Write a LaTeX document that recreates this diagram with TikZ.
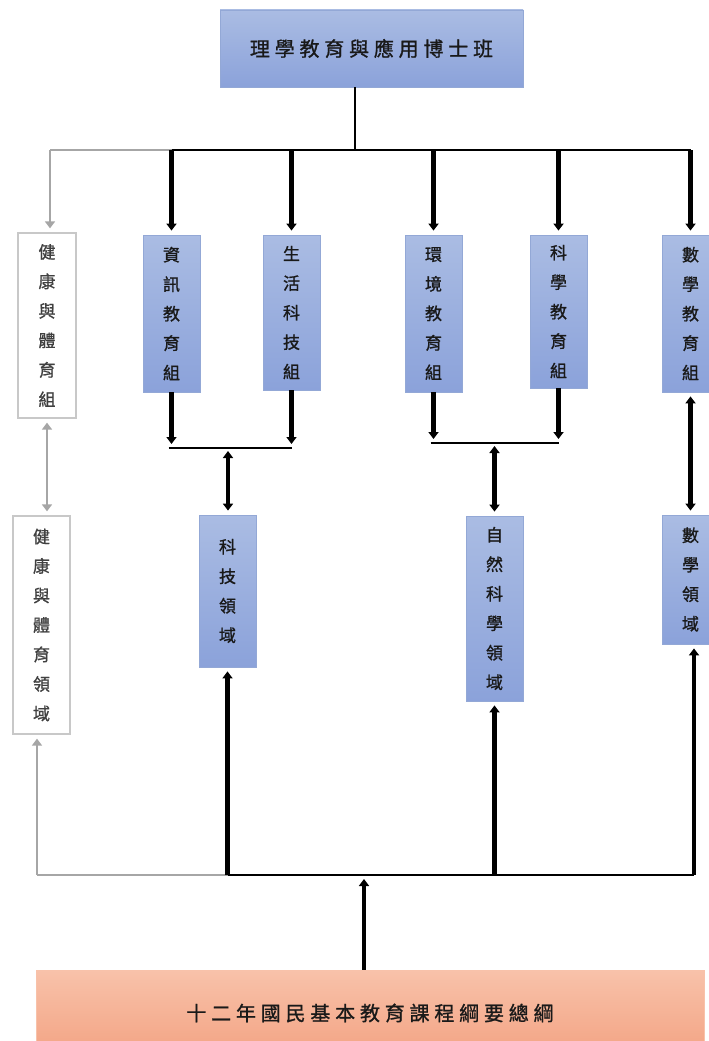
\documentclass[tikz,border=0pt]{standalone}
\usepackage{fontspec}
\newfontfamily\cjk[FakeBold=1]{Noto Sans CJK TC}
\newfontfamily\cjkwide[LetterSpace=24,FakeBold=1]{Noto Sans CJK TC}
\usetikzlibrary{arrows.meta}

\definecolor{boxtop}{HTML}{AABCE3}
\definecolor{boxbot}{HTML}{8BA2DA}
\definecolor{boxline}{HTML}{93A8D6}
\definecolor{basetop}{HTML}{F8C2AA}
\definecolor{basebot}{HTML}{F3A383}
\definecolor{gline}{HTML}{A6A6A6}
\definecolor{gbox}{HTML}{C8C8C8}

\tikzset{
  tip/.tip={Triangle[width=10pt,length=7pt]},
  colbox/.style={draw=boxline,line width=0.8pt,top color=boxtop,bottom color=boxbot,
    minimum width=57pt,inner sep=0pt,align=center,text=black!90,
    font=\cjk\fontsize{17}{29.5}\selectfont},
  graybox/.style={colbox,draw=gbox,line width=1.3pt,top color=white,bottom color=white,text=black!75},
  bus/.style={line width=2.3pt,black},
  gbus/.style={line width=2.5pt,gline},
  down/.style={line width=4.5pt,-tip,shorten >=4pt},
  up/.style={line width=4.5pt,-tip,shorten >=4pt},
  both/.style={line width=4.5pt,tip-tip,shorten <=3pt,shorten >=4pt},
  gdown/.style={line width=2.8pt,gline,-tip,shorten >=4pt},
  gboth/.style={line width=2.8pt,gline,tip-tip,shorten <=4pt,shorten >=4pt}
}

\begin{document}
\begin{tikzpicture}[x=1pt,y=-1pt]
\useasboundingbox (0,0) rectangle (709,1041);
\clip (0,0) rectangle (709,1041);

\node[colbox,minimum width=303pt,minimum height=77pt,font=\cjkwide\fontsize{20}{22}\selectfont]
  (PHD) at (371.5,48.5) {理學教育與應用博士班};

\node[colbox,minimum height=157pt] (ZX) at (171.5,313.5) {資\\訊\\教\\育\\組};
\node[colbox,minimum height=155pt] (SH) at (291.5,312.5) {生\\活\\科\\技\\組};
\node[colbox,minimum height=157pt] (HJ) at (433.5,313.5) {環\\境\\教\\育\\組};
\node[colbox,minimum height=153pt] (KX) at (558.5,311.5) {科\\學\\教\\育\\組};
\node[colbox,minimum height=157pt] (SX) at (690.5,313.5) {數\\學\\教\\育\\組};
\node[graybox,minimum width=58pt,minimum height=185pt] (JK) at (47,325.5) {健\\康\\與\\體\\育\\組};

\node[colbox,minimum height=152pt] (KJ) at (227.5,591) {科\\技\\領\\域};
\node[colbox,minimum height=185pt] (ZR) at (494.5,608.5) {自\\然\\科\\學\\領\\域};
\node[colbox,minimum height=129pt] (SL) at (690.5,579.5) {數\\學\\領\\域};
\node[graybox,minimum height=218pt] (JKL) at (41.5,625) {健\\康\\與\\體\\育\\領\\域};

\node[colbox,draw=basetop,top color=basetop,bottom color=basebot,minimum width=668pt,minimum height=86pt,
  font=\cjkwide\fontsize{20}{22}\selectfont] (BASE) at (370,1013) {十二年國民基本教育課程綱要總綱};

\coordinate (TB) at (355,150);
\coordinate (TBL) at (50,150);
\coordinate (TBR) at (690.5,150);
\coordinate (J1) at (228,448);
\coordinate (J2) at (494.5,443);
\coordinate (BB) at (364,875);
\coordinate (BBL) at (37,875);
\coordinate (BBR) at (694,875);

\draw[bus] (PHD.south -| TB) -- (TB);
\draw[gbus] (TBL) -- (ZX.north |- TB);
\draw[bus] (ZX.north |- TB) -- (TBR);
\foreach \n in {ZX,SH,HJ,KX,SX}
  \draw[down] (\n.north |- TB) -- (\n.north);
\draw[gdown] (TBL) -- (TBL |- JK.north);

\draw[down] (ZX.south) -- (ZX.south |- J1);
\draw[down] (SH.south) -- (SH.south |- J1);
\draw[bus] ([xshift=-3pt]ZX.south |- J1) -- (SH.south |- J1);
\draw[both] (J1) -- (J1 |- KJ.north);

\draw[down] (HJ.south) -- (HJ.south |- J2);
\draw[down] (KX.south) -- (KX.south |- J2);
\draw[bus] ([xshift=-3pt]HJ.south |- J2) -- (KX.south |- J2);
\draw[both] (J2) -- (ZR.north);

\draw[both,shorten <=4pt] (SX.south) -- (SL.north);
\draw[gboth] (JK.south) -- (JK.south |- JKL.north);

\draw[gbus] (BBL) -- (KJ.south |- BB);
\draw[gdown] (BBL) -- (BBL |- JKL.south);
\draw[bus] (KJ.south |- BB) -- (BBR);
\draw[up] (KJ.south |- BB) -- (KJ.south);
\draw[up] (ZR.south |- BB) -- (ZR.south);
\draw[up] (BBR) -- (BBR |- SL.south);
\draw[up] (BASE.north -| BB) -- (BB);
\end{tikzpicture}
\end{document}
